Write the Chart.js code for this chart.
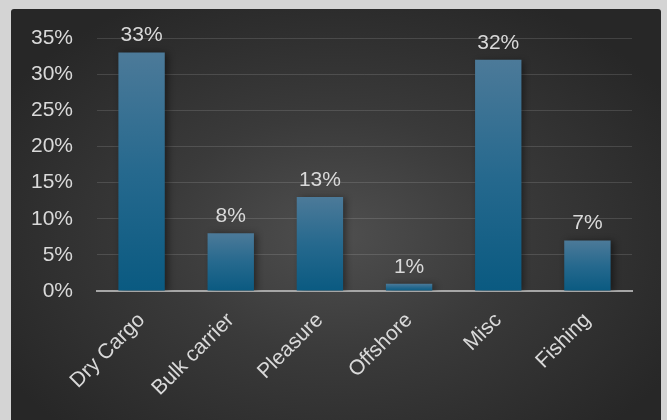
<!DOCTYPE html>
<html>
<head>
<meta charset="utf-8">
<script src="https://cdn.jsdelivr.net/npm/chart.js@4/dist/chart.umd.min.js"></script>
<style>
  html, body { margin: 0; padding: 0; background: #d4d4d4; }
  #panel {
    position: absolute; left: 11px; top: 9px; width: 650px; height: 411px;
    border-radius: 3px 3px 0 0;
    background: radial-gradient(ellipse 60% 65% at 50% 55%, #4f4f4f 0%, #3a3a3a 45%, #272727 100%);
  }
</style>
</head>
<body>
<div id="panel"><canvas id="grafico" width="650" height="411"></canvas></div>
<script>
// Datos
var categorias = ['Dry Cargo', 'Bulk carrier', 'Pleasure', 'Offshore', 'Misc', 'Fishing'];
var valores = [33, 8, 13, 1, 32, 7];
var ticksY = [0, 5, 10, 15, 20, 25, 30, 35];

var colorTexto = '#d9d9d9';
var fuente = { family: '"Liberation Sans", Arial, sans-serif', size: 21 };

// degradado vertical para cada barra
function degradado(context) {
    var chart = context.chart;
    var area = chart.chartArea;
    if (!area || !chart.scales.y) return '#1f6a92';
    var top = chart.scales.y.getPixelForValue(context.raw);
    var g = chart.ctx.createLinearGradient(0, top, 0, area.bottom);
    g.addColorStop(0, '#4c7a99');
    g.addColorStop(0.5, '#26698e');
    g.addColorStop(1, '#0a5a81');
    return g;
}

// sombra de las barras + etiquetas encima
var etiquetas = {
    id: 'etiquetas',
    beforeDatasetsDraw: function(chart) {
        var ctx = chart.ctx;
        ctx.save();
        ctx.shadowColor = 'rgba(0,0,0,0.45)';
        ctx.shadowBlur = 7;
        ctx.shadowOffsetX = 3;
        ctx.shadowOffsetY = 1;
    },
    afterDatasetsDraw: function(chart) {
        var ctx = chart.ctx;
        ctx.restore();
        var meta = chart.getDatasetMeta(0);
        ctx.save();
        ctx.fillStyle = colorTexto;
        ctx.font = fuente.size + 'px ' + fuente.family;
        ctx.textAlign = 'center';
        ctx.textBaseline = 'alphabetic';
        meta.data.forEach(function(bar, i) {
            ctx.fillText(valores[i] + '%', bar.x, bar.y - 11);
        });
        ctx.restore();
    }
};

var ctx = document.getElementById('grafico').getContext('2d');
var grafico = new Chart(ctx, {
    type: 'bar',
    data: {
        labels: categorias,
        datasets: [{
            data: valores,
            backgroundColor: degradado,
            borderWidth: 0,
            categoryPercentage: 1,
            barPercentage: 0.52
        }]
    },
    options: {
        responsive: false,
        animation: false,
        layout: { padding: { top: 29, right: 29, left: 0, bottom: 0 } },
        plugins: { legend: { display: false }, tooltip: { enabled: false } },
        scales: {
            x: {
                grid: { display: false, drawTicks: false },
                border: { color: '#a6a6a6', width: 2 },
                ticks: {
                    color: colorTexto, font: fuente,
                    minRotation: 45, maxRotation: 45, padding: 17
                },
                afterFit: function(scale) { scale.height = 129; }
            },
            y: {
                min: 0, max: 35,
                afterBuildTicks: function(scale) {
                    scale.ticks = ticksY.map(function(v) { return { value: v }; });
                },
                grid: { color: 'rgba(255,255,255,0.13)', lineWidth: 1, drawTicks: false },
                border: { display: false },
                ticks: {
                    color: colorTexto, font: fuente, padding: 24,
                    callback: function(v) { return v + '%'; }
                },
                afterFit: function(scale) {
                    scale.width = 86;
                    scale.paddingTop = 12;
                    scale.paddingBottom = 12;
                }
            }
        }
    },
    plugins: [etiquetas]
});
</script>
</body>
</html>
